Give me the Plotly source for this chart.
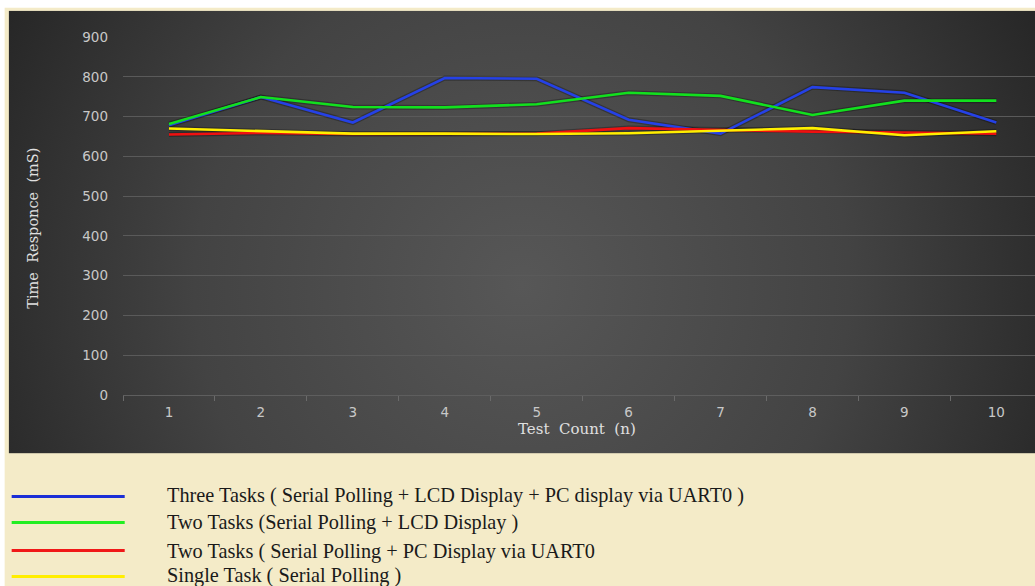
import base64
import plotly.graph_objects as go

# ---------------- data ----------------
test_count = [1, 2, 3, 4, 5, 6, 7, 8, 9, 10]
three_tasks = [678, 749, 685, 797, 795, 692, 657, 774, 760, 685]
two_tasks_lcd = [681, 749, 724, 723, 731, 760, 752, 704, 740, 740]
two_tasks_pc = [655, 659, 656, 656, 657, 671, 667, 662, 660, 657]
single_task = [670, 664, 657, 657, 656, 658, 665, 671, 653, 663]

series_names = [
    "Three Tasks ( Serial Polling + LCD Display + PC display via UART0 )",
    "Two Tasks (Serial Polling + LCD Display )",
    "Two Tasks ( Serial Polling + PC Display via UART0",
    "Single Task ( Serial Polling )",
]
series_values = [three_tasks, two_tasks_lcd, two_tasks_pc, single_task]
line_colors = ["#2541e6", "#12e01e", "#f01010", "#ffee00"]
legend_colors = ["#1b2ed6", "#22ee22", "#f01818", "#ffee00"]
y_ticks = [0, 100, 200, 300, 400, 500, 600, 700, 800, 900]

# ---------------- geometry (page pixels) ----------------
W, H = 1035, 586
plot_l, plot_r = 123.3, 1035.0
plot_t, plot_b = 37.3, 394.7
cat_w = 91.9
pw, ph = plot_r - plot_l, plot_b - plot_t


def px(x):
    return (x - plot_l) / pw


def py(y):
    return (plot_b - y) / ph


fig = go.Figure()

for vals in series_values:
    fig.add_trace(go.Scatter(x=test_count, y=vals, mode="lines",
                             line=dict(color="rgba(0,0,0,0.28)", width=5),
                             hoverinfo="skip", showlegend=False))
for name, vals, col in zip(series_names, series_values, line_colors):
    fig.add_trace(go.Scatter(x=test_count, y=vals, mode="lines", name=name,
                             line=dict(color=col, width=2.6), showlegend=False))

# radial gradient background as svg image
dark_l, dark_r, dark_t, dark_b = 9, 1035, 11, 453
gw, gh = dark_r - dark_l, dark_b - dark_t
svg = f'''<svg xmlns="http://www.w3.org/2000/svg" width="{gw}" height="{gh}" viewBox="0 0 {gw} {gh}" preserveAspectRatio="none">
<defs><radialGradient id="g" gradientUnits="userSpaceOnUse" cx="{gw*0.5}" cy="{gh*0.62}" r="{gw*0.58}">
<stop offset="0" stop-color="#575757"/><stop offset="0.55" stop-color="#434343"/><stop offset="1" stop-color="#252525"/></radialGradient></defs>
<rect width="{gw}" height="{gh}" fill="url(#g)"/></svg>'''
src = "data:image/svg+xml;base64," + base64.b64encode(svg.encode()).decode()

# white outer margin at top and left
shapes = [
    dict(type="rect", xref="paper", yref="paper", x0=px(0), x1=px(1036), y0=py(8), y1=py(-1),
         fillcolor="#ffffff", line=dict(width=0), layer="below"),
    dict(type="rect", xref="paper", yref="paper", x0=px(-1), x1=px(5), y0=py(587), y1=py(-1),
         fillcolor="#ffffff", line=dict(width=0), layer="below"),
]
annotations = []
legend_y_lines = [496, 522, 550, 576]
legend_y_text = [495, 522, 551, 575]
for name, col, yl, yt in zip(series_names, legend_colors, legend_y_lines, legend_y_text):
    shapes.append(dict(type="line", xref="paper", yref="paper", x0=px(12), x1=px(125),
                       y0=py(yl), y1=py(yl), line=dict(color=col, width=3)))
    annotations.append(dict(text=name, xref="paper", yref="paper", x=px(165), y=py(yt),
                            xanchor="left", yanchor="middle", showarrow=False,
                            font=dict(family="Liberation Serif", size=20.3, color="#1a1a1a")))

annotations.append(dict(text="Time  Responce  (mS)", xref="paper", yref="paper", x=px(33), y=py(228),
                        textangle=-90, showarrow=False, xanchor="center", yanchor="middle",
                        font=dict(family="DejaVu Serif", size=14.5, color="#e0e0e0")))
annotations.append(dict(text="Test  Count  (n)", xref="paper", yref="paper", x=px(577), y=py(429),
                        showarrow=False, xanchor="center", yanchor="middle",
                        font=dict(family="DejaVu Serif", size=15, color="#e0e0e0")))

fig.update_layout(
    width=W, height=H,
    margin=dict(l=plot_l, r=W - plot_r, t=plot_t, b=H - plot_b, pad=0),
    paper_bgcolor="#f4ebc8",
    plot_bgcolor="rgba(0,0,0,0)",
    showlegend=False,
    shapes=shapes,
    annotations=annotations,
    images=[dict(source=src, xref="paper", yref="paper", x=px(dark_l), y=py(dark_t),
                 sizex=px(dark_r) - px(dark_l), sizey=py(dark_t) - py(dark_b),
                 xanchor="left", yanchor="top", sizing="stretch", layer="below")],
    xaxis=dict(range=[0.5, 0.5 + pw / cat_w], tickvals=test_count, ticktext=[str(v) for v in test_count],
               showgrid=False, zeroline=False, showline=True, linecolor="#5e5e5e", linewidth=1,
               ticks="", ticklabelstandoff=5,
               minor=dict(tickmode="array", tickvals=[v - 0.5 for v in test_count], ticks="outside",
                          ticklen=5, tickcolor="#6a6a6a", showgrid=False),
               tickfont=dict(family="DejaVu Sans", size=13.5, color="#c8c8c8"), fixedrange=True),
    yaxis=dict(range=[0, 900], tickvals=y_ticks, showgrid=True, gridcolor="#5a5a5a", gridwidth=1,
               zeroline=False, showline=False, ticks="", ticklabelstandoff=14,
               tickfont=dict(family="DejaVu Sans", size=13.5, color="#c8c8c8"), fixedrange=True),
)

fig.write_html("out.html", config={"displayModeBar": False},
               post_script="document.body.style.margin='0';document.body.style.overflow='hidden';")
